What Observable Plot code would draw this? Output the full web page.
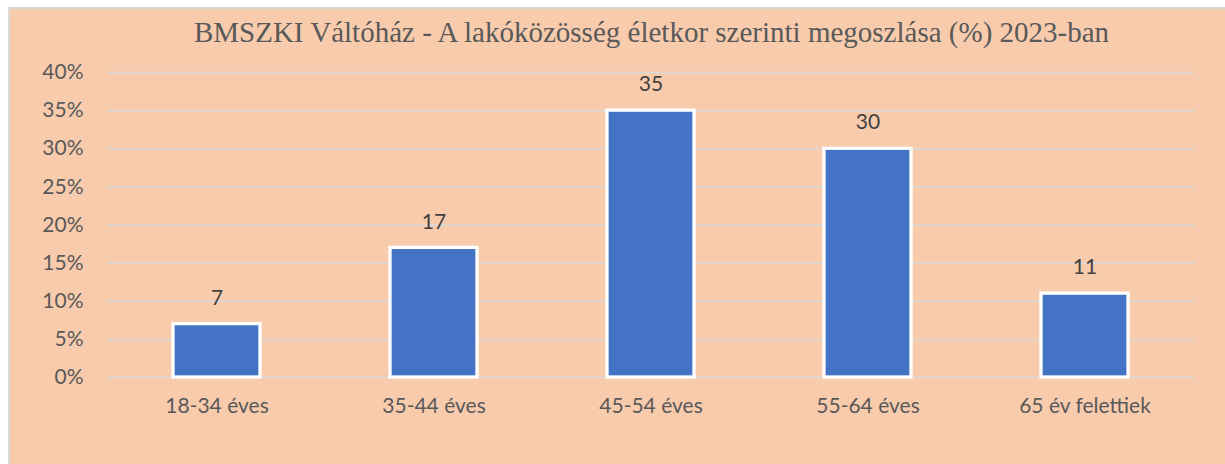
<!DOCTYPE html>
<html>
<head>
<meta charset="utf-8">
<script src="https://cdn.jsdelivr.net/npm/d3@7"></script>
<script src="https://cdn.jsdelivr.net/npm/@observablehq/plot@0.6"></script>
<style>
  html, body { margin: 0; padding: 0; background: #ffffff; overflow: hidden; }
  #wrap {
    position: absolute; left: 8px; top: 7px; width: 1230px; height: 470px;
    background: #F8CBAD; border-left: 2px solid #d9d9d9; border-top: 2px solid #d9d9d9;
  }
  #title {
    height: 46px; line-height: 46px; padding-left: 68px; width: 1147px;
    text-align: center; font-family: "Liberation Serif", "Times New Roman", serif;
    font-size: 29px; color: #595959; white-space: nowrap;
  }
</style>
</head>
<body>
<div id="wrap">
  <div id="title"></div>
  <div id="chart"></div>
</div>
<script>
const titleText = "BMSZKI Váltóház - A lakóközösség életkor szerinti megoszlása (%) 2023-ban";
const categories = ["18-34 éves", "35-44 éves", "45-54 éves", "55-64 éves", "65 év felettiek"];
const values = [7, 17, 35, 30, 11];
const yTicks = [0, 5, 10, 15, 20, 25, 30, 35, 40];

document.getElementById("title").textContent = titleText;

const data = categories.map((c, i) => ({category: c, value: values[i]}));

const chart = Plot.plot({
  width: 1215,
  height: 409,
  marginLeft: 97,
  marginRight: 31,
  marginTop: 17,
  marginBottom: 87,
  style: {background: "transparent", fontFamily: "Lato, 'Open Sans', sans-serif", fontSize: "21px", color: "#595959", overflow: "visible"},
  x: {domain: categories, paddingInner: 0.6, paddingOuter: 0.3, label: null, tickSize: 0, tickPadding: 21},
  y: {domain: [0, 40], ticks: yTicks, tickFormat: d => d + "%", label: null, tickSize: 0, tickPadding: 24},
  marks: [
    Plot.gridY(yTicks, {stroke: "#d9d9d9", strokeWidth: 1.5, strokeOpacity: 1}),
    Plot.barY(data, {x: "category", y: "value", fill: "#4472C4", stroke: "#ffffff", strokeWidth: 3.3}),
    Plot.text(data, {x: "category", y: "value", text: d => String(d.value), dy: -26, fill: "#404040", fontSize: 21})
  ]
});
document.getElementById("chart").appendChild(chart);
</script>
</body>
</html>
